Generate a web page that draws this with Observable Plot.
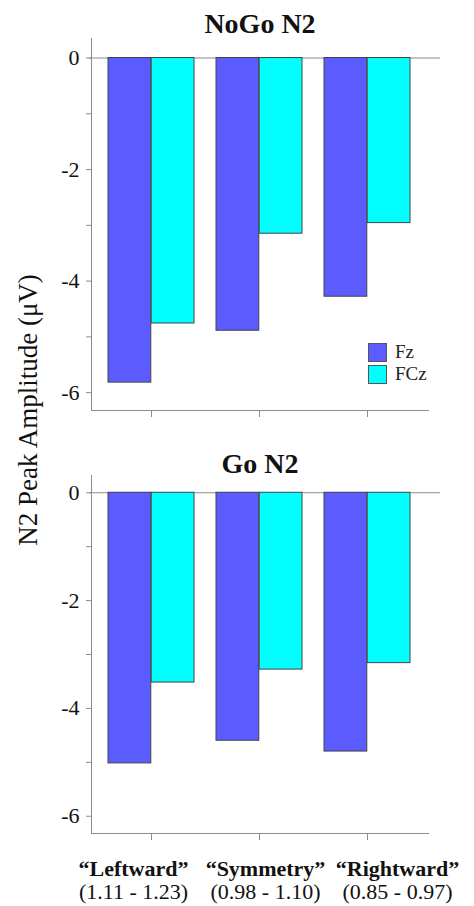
<!DOCTYPE html>
<html>
<head>
<meta charset="utf-8">
<script src="https://cdn.jsdelivr.net/npm/d3@7"></script>
<script src="https://cdn.jsdelivr.net/npm/@observablehq/plot@0.6"></script>
<style>
  html, body { margin: 0; padding: 0; background: #fff; }
  #wrap { position: relative; width: 474px; height: 906px; overflow: hidden; font-family: "Liberation Serif", "Times New Roman", serif; }
  .panel { position: absolute; left: 0; }
  #ytitle { position: absolute; width: 320px; left: -132px; top: 395px; height: 30px; line-height: 30px;
            font-size: 27px; text-align: center; transform: rotate(-90deg); transform-origin: 50% 50%; color: #111; }
  #legend { position: absolute; left: 368px; top: 341px; font-size: 19px; color: #222; }
  #legend .row { display: flex; align-items: center; height: 22px; }
  #legend .sw { width: 17px; height: 17px; border: 1px solid #555; margin-right: 8px; box-sizing: content-box; }
</style>
</head>
<body>
<div id="wrap">
  <div id="top" class="panel" style="top:0px"></div>
  <div id="bottom" class="panel" style="top:440px"></div>
  <div id="labels" class="panel" style="top:845px"></div>
  <div id="ytitle"></div>
  <div id="legend"></div>
</div>
<script>
// ---- data ----
const conditions = ["Leftward", "Symmetry", "Rightward"];
const ranges = ["(1.11 - 1.23)", "(0.98 - 1.10)", "(0.85 - 0.97)"];
const electrodes = ["Fz", "FCz"];
const colors = ["#5b5bff", "#00ffff"];
const panelTitles = ["NoGo N2", "Go N2"];
const nogoFz = [-5.82, -4.89, -4.28];
const nogoFCz = [-4.76, -3.15, -2.96];
const goFz = [-5.02, -4.60, -4.80];
const goFCz = [-3.52, -3.28, -3.16];
const majorTicks = [0, -2, -4, -6];
const minorTicks = [-1, -3, -5];
const yTitle = "N2 Peak Amplitude (\u03bcV)";

function rows(fz, fcz) {
  const out = [];
  conditions.forEach((c, i) => {
    out.push({condition: c, electrode: "Fz", value: fz[i]});
    out.push({condition: c, electrode: "FCz", value: fcz[i]});
  });
  return out;
}

const W = 474, ML = 91, MR = 46;
const padIn = 0.2, padOut = 0.16;
const step = (W - ML - MR) / (conditions.length - padIn + 2 * padOut);
const half = step * (1 - padIn) / 2;
const axisGray = "#8c8c8c";

function panel(data, title, yDomain, height, mt, mb, titleDy) {
  return Plot.plot({
    width: W, height, marginLeft: ML, marginRight: MR, marginTop: mt, marginBottom: mb,
    style: {fontFamily: "'Liberation Serif', 'Times New Roman', serif", fontSize: "22px", color: "#111", background: "#fff"},
    x: {type: "band", domain: conditions, paddingInner: padIn, paddingOuter: padOut, axis: null},
    y: {domain: yDomain, axis: null},
    color: {domain: electrodes, range: colors},
    marks: [
      Plot.frame({anchor: "left", stroke: axisGray}),
      Plot.frame({anchor: "bottom", stroke: axisGray}),
      Plot.ruleY([0], {stroke: axisGray, insetLeft: -2, insetRight: -12}),
      Plot.barY(data.filter(d => d.electrode === "Fz"), {x: "condition", y: "value", fill: "electrode", stroke: "#444", strokeWidth: 1, insetLeft: 0, insetRight: half}),
      Plot.barY(data.filter(d => d.electrode === "FCz"), {x: "condition", y: "value", fill: "electrode", stroke: "#444", strokeWidth: 1, insetLeft: half, insetRight: 0}),
      Plot.axisY({ticks: majorTicks, tickSize: 5, tickPadding: 7, stroke: axisGray, tickFormat: d => String(d), fill: "#111", label: null}),
      Plot.axisY({ticks: minorTicks, tickSize: 5, stroke: axisGray, tickFormat: () => "", label: null}),
      Plot.axisX({tickSize: 7, stroke: axisGray, tickFormat: () => "", label: null}),
      Plot.text([title], {frameAnchor: "top", lineAnchor: "bottom", dy: titleDy, fontSize: 28, fontWeight: "bold", fill: "#111"})
    ]
  });
}

document.getElementById("top").appendChild(
  panel(rows(nogoFz, nogoFCz), panelTitles[0], [-6.32, 0.35], 432, 38, 22, -6)
);
document.getElementById("bottom").appendChild(
  panel(rows(goFz, goFCz), panelTitles[1], [-6.32, 0.32], 410, 35, 17, -3)
);

// category labels under the bottom panel
const labelData = conditions.map((c, i) => ({condition: c, range: ranges[i]}));
document.getElementById("labels").appendChild(Plot.plot({
  width: W, height: 61, marginLeft: 66, marginRight: 11, marginTop: 0, marginBottom: 0,
  style: {fontFamily: "'Liberation Serif', 'Times New Roman', serif", fontSize: "22px", color: "#111", background: "#fff"},
  x: {type: "band", domain: conditions, padding: 0, axis: null},
  marks: [
    Plot.text(labelData, {x: "condition", text: d => "\u201c" + d.condition + "\u201d", frameAnchor: "top", lineAnchor: "bottom", dy: 30, fontWeight: "bold", fill: "#111"}),
    Plot.text(labelData, {x: "condition", text: "range", frameAnchor: "top", lineAnchor: "bottom", dy: 53, fill: "#111"})
  ]
}));

document.getElementById("ytitle").textContent = yTitle;

const legend = document.getElementById("legend");
electrodes.forEach((e, i) => {
  const row = document.createElement("div");
  row.className = "row";
  const sw = document.createElement("div");
  sw.className = "sw";
  sw.style.background = colors[i];
  const t = document.createElement("span");
  t.textContent = e;
  row.appendChild(sw); row.appendChild(t);
  legend.appendChild(row);
});
</script>
</body>
</html>
